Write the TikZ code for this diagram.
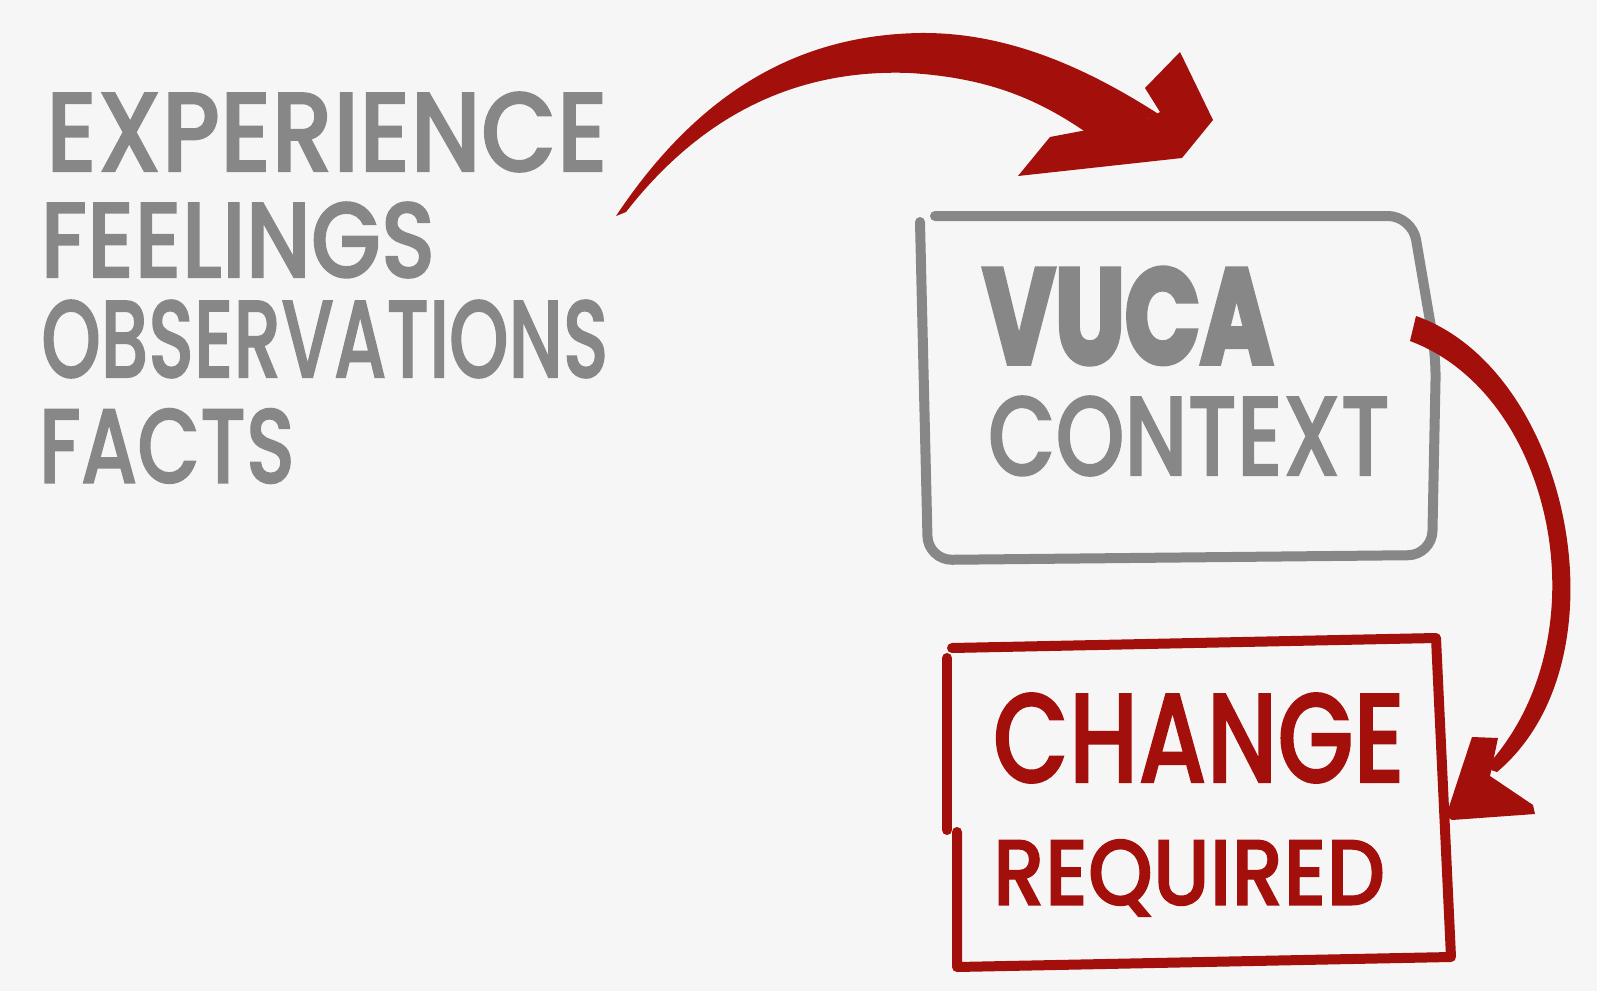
\documentclass[tikz,border=0pt]{standalone}
\usepackage{fontspec}
\setmainfont{Poppins}
\newfontfamily\markfont{Poppins}[UprightFont={* Medium}, FakeBold=1.5]
\newfontfamily\heavyfont{Poppins}[BoldFeatures={FakeBold=4}]
\usepackage{graphicx}
\definecolor{ink}{HTML}{878787}
\definecolor{redink}{HTML}{A3100B}
\definecolor{paper}{HTML}{F6F6F6}
\newcommand{\fitword}[3]{\resizebox*{#1pt}{#2pt}{#3}}
\begin{document}
\begin{tikzpicture}[x=0.5pt,y=-0.5pt,
  graytxt/.style={text=ink, inner sep=0pt, anchor=center, font=\markfont},
  redtxt/.style={text=redink, inner sep=0pt, anchor=center, font=\markfont},
  grayline/.style={draw=ink, line width=5pt, line cap=round, line join=round},
  redline/.style={draw=redink, line width=5pt, line cap=round, line join=round}]
\fill[paper] (0,0) rectangle (1597,991);
\useasboundingbox (0,0) rectangle (1597,991);

% left texts
\node[graytxt] (exp)   at (327,132) {\fitword{281}{40}{EXPERIENCE}};
\node[graytxt] (feel)  at (238,240) {\fitword{197.5}{38}{FEELINGS}};
\node[graytxt] (obs)   at (325,339) {\fitword{283.5}{39}{OBSERVATIONS}};
\node[graytxt] (facts) at (167,446) {\fitword{128}{37.5}{FACTS}};

% gray box
\draw[grayline, rounded corners=12pt] (935,216) -- (1412,216) -- (1436,356) -- (1432,555) -- (928,560) -- (920,222);
\node[graytxt] (vuca) at (1128,316) {\fitword{145}{48}{\heavyfont\bfseries VUCA}};
\node[graytxt] (ctx)  at (1189,436) {\fitword{201}{40}{CONTEXT}};

% red box
\draw[redline] (952,648) -- (1436,638) -- (1451,957) -- (957,967) -- (957,832);
\draw[redline] (947,830) -- (947,658);
\node[redtxt] (change) at (1199,738) {\fitword{206}{45}{CHANGE}};
\node[redtxt] (req)    at (1189,878) {\fitword{196}{38.5}{REQUIRED}};

% arrow 1 (facts -> context)
\coordinate (a1s) at (616,216);
\coordinate (a1tip) at (1213,120);
\fill[redink] (a1s) .. controls (700,90) and (800,35) .. (920,33) .. controls (1010,32) and (1090,70) .. (1160,115)
   -- (1150,118) -- (1090,135) .. controls (1040,100) and (990,78) .. (910,73) .. controls (780,68) and (690,130) .. (626,212) -- cycle;
\fill[redink] (1018,176) -- (1050,137) -- (1150,118) -- (1160,112) -- (1145,88) -- (1180,52) -- (a1tip) -- (1182,158) -- cycle;

% arrow 2 (context -> change)
\coordinate (a2s) at (1416,316);
\coordinate (a2tip) at (1446,816);
\fill[redink] (a2s) .. controls (1570,370) and (1630,660) .. (1497,772) -- (1485,768) .. controls (1605,640) and (1555,395) .. (1410,341) -- cycle;
\fill[redink] (1472,737) -- (1498,738) -- (1490,776) -- (1533,805) -- (1535,814) -- (1452,820) -- (a2tip) -- cycle;
\end{tikzpicture}
\end{document}
